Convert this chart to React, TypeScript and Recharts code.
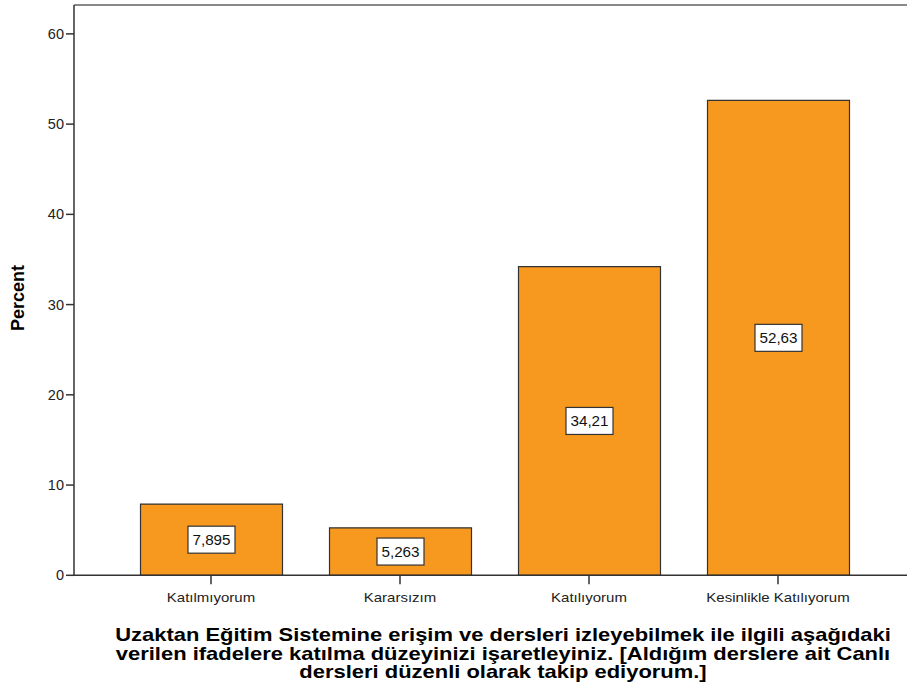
import React from 'react';
import { BarChart, Bar, XAxis, YAxis, LabelList, ReferenceLine } from 'recharts';

const categories = ['Katılmıyorum', 'Kararsızım', 'Katılıyorum', 'Kesinlikle Katılıyorum'];
const percents = [7.895, 5.263, 34.21, 52.63];
const yTicks = [0, 10, 20, 30, 40, 50, 60];
const yMax = 63.2;
const titleLines = [
  'Uzaktan Eğitim Sistemine erişim ve dersleri izleyebilmek ile ilgili aşağıdaki',
  'verilen ifadelere katılma düzeyinizi işaretleyiniz. [Aldığım derslere ait Canlı',
  'dersleri düzenli olarak takip ediyorum.]',
];

const data = categories.map((c, i) => ({ name: c, value: percents[i] }));

const FONT = 'Liberation Sans, Arial, sans-serif';
const SX = 1.2;

const ValueLabel = (props: any) => {
  const { x, y, width, height, value } = props;
  const txt = String(value).replace('.', ',');
  const cx = x + width / 2;
  const cy = y + height / 2;
  const w = txt.length * 7.6 + 9;
  const h = 27;
  return (
    <g>
      <rect x={cx - w / 2} y={cy - h / 2} width={w} height={h} fill="#fff" stroke="#333" strokeWidth={1.2} />
      <text transform={`translate(${cx} ${cy + 5}) scale(1.05 1)`} textAnchor="middle" fontSize={14.5} fontFamily={FONT} fill="#111">{txt}</text>
    </g>
  );
};

const XTick = (props: any) => {
  const { x, y, payload } = props;
  return (
    <text transform={`translate(${x} ${y + 16}) scale(${SX} 1)`} textAnchor="middle" fontSize={12.5} fontFamily={FONT} fill="#222">
      {payload.value}
    </text>
  );
};

const YLabel = () => (
  <text x={24} y={298} transform="rotate(-90 24 298)" textAnchor="middle" fontSize={18} fontWeight="bold" fontFamily={FONT} fill="#000">Percent</text>
);

export default function App() {
  return (
    <div style={{ position: 'absolute', left: 0, top: 0, width: 907, height: 698, overflow: 'hidden', background: '#fff' }}>
      <BarChart width={915} height={698} data={data} margin={{ top: 5, right: 0, bottom: 92.7, left: 0 }}>
        <XAxis
          dataKey="name"
          padding={{ left: 42.5, right: 42.5 }}
          stroke="#333"
          strokeWidth={1.5}
          tickSize={9}
          tick={<XTick />}
          height={30}
          interval={0}
        />
        <YAxis
          domain={[0, yMax]}
          ticks={yTicks}
          width={74}
          stroke="#333"
          strokeWidth={1.5}
          tickSize={8}
          tick={{ fontSize: 14.5, fontFamily: FONT, fill: '#222' }}
          label={<YLabel />}
          allowDataOverflow
        />
        <ReferenceLine y={yMax} stroke="#888" strokeWidth={2} ifOverflow="extendDomain" />
        <Bar dataKey="value" fill="#F7981F" stroke="#333" strokeWidth={1.2} barSize={142} isAnimationActive={false}>
          <LabelList dataKey="value" content={<ValueLabel />} />
        </Bar>
      </BarChart>
      <svg width={907} height={698} style={{ position: 'absolute', left: 0, top: 0, pointerEvents: 'none' }}>
        {titleLines.map((l, i) => (
          <text key={i} transform={`translate(503 ${641 + i * 18.5}) scale(1.22 1)`} textAnchor="middle" fontSize={18} fontWeight="bold" fontFamily={FONT} fill="#000">{l}</text>
        ))}
      </svg>
    </div>
  );
}
